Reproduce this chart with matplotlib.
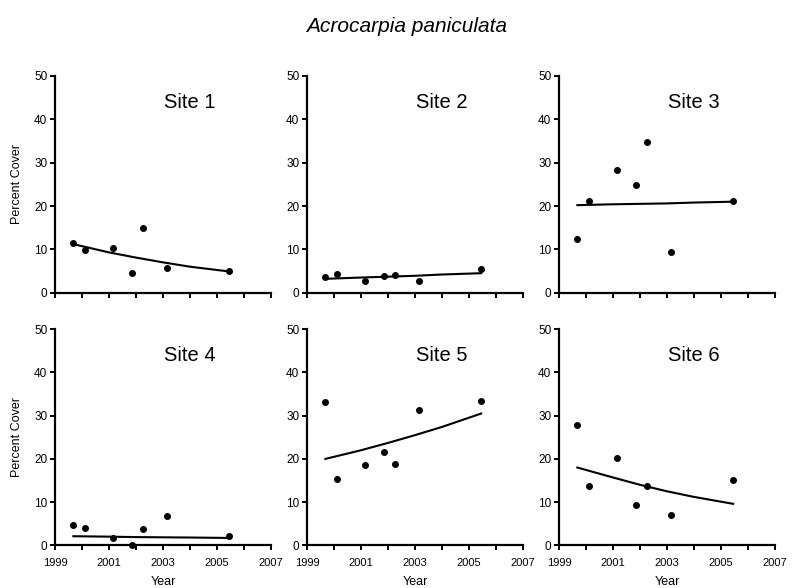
import numpy as np
import matplotlib
matplotlib.use("Agg")
import matplotlib.pyplot as plt

plt.rcParams['font.family'] = ['Liberation Sans', 'DejaVu Sans']

# survey dates (same for every site)
years = [1999.68, 2000.12, 2001.16, 2001.85, 2002.25, 2003.16, 2005.45]

site1 = [11.5, 9.9, 10.2, 4.5, 14.9, 5.6, 4.9]
site2 = [3.6, 4.2, 2.6, 3.8, 4.0, 2.8, 5.5]
site3 = [12.5, 21.1, 28.4, 24.8, 34.7, 9.5, 21.1]
site4 = [4.6, 4.1, 1.7, 0.1, 3.8, 6.7, 2.1]
site5 = [33.1, 15.4, 18.7, 21.5, 18.9, 31.3, 33.3]
site6 = [27.9, 13.7, 20.3, 9.3, 13.7, 6.9, 15.0]

# fitted curves
fit_years = [1999.68, 2001, 2002, 2003, 2004, 2005.45]
fit1 = [11.2, 9.3, 8.1, 7.0, 6.0, 4.9]
fit2 = [3.2, 3.5, 3.7, 3.9, 4.2, 4.5]
fit3 = [20.2, 20.4, 20.5, 20.6, 20.8, 21.0]
fit4 = [2.1, 2.0, 1.9, 1.85, 1.8, 1.7]
fit5 = [20.0, 22.0, 23.7, 25.5, 27.4, 30.5]
fit6 = [18.0, 15.7, 14.0, 12.5, 11.2, 9.6]

sites = ["Site 1", "Site 2", "Site 3", "Site 4", "Site 5", "Site 6"]
values = [site1, site2, site3, site4, site5, site6]
fits = [fit1, fit2, fit3, fit4, fit5, fit6]

xticks = list(range(1999, 2008))
xticklabels = [str(y) if y % 2 == 1 else "" for y in xticks]
yticks = [0, 10, 20, 30, 40, 50]

fig = plt.figure(figsize=(7.92, 5.88), dpi=100)

lefts = [55/792, 307/792, 559/792]
w = 216/792
rows = [(1 - 292.7/588, 216.7/588), (1 - 545.3/588, 216/588)]

for i in range(6):
    r, c = divmod(i, 3)
    ax = fig.add_axes([lefts[c], rows[r][0], w, rows[r][1]])
    ax.plot(years, values[i], 'o', color='black', markersize=4, clip_on=False, zorder=3)
    ax.plot(fit_years, fits[i], '-', color='black', linewidth=1.5)
    ax.set_xlim(1999, 2007)
    ax.set_ylim(0, 50)
    ax.spines['top'].set_visible(False)
    ax.spines['right'].set_visible(False)
    ax.spines['left'].set_linewidth(1.6)
    ax.spines['bottom'].set_linewidth(1.6)
    ax.set_yticks(yticks)
    ax.set_xticks(xticks)
    ax.tick_params(width=1.4, length=3.5, direction='out')
    ax.tick_params(axis='y', pad=2, labelsize=8.5)
    ax.tick_params(axis='x', pad=6, labelsize=8)
    if r == 1:
        ax.set_xticklabels(xticklabels)
        ax.set_xlabel("Year", fontsize=9)
        ax.xaxis.set_label_coords(0.5, -0.142)
    else:
        ax.set_xticklabels([])
    if c == 0:
        ax.set_ylabel("Percent Cover", fontsize=9)
        ax.yaxis.set_label_coords(-0.148, 0.5)
    ax.text(2004, 44, sites[i], fontsize=14.5, ha='center', va='center')

fig.text(407/792, 1 - 26/588, "Acrocarpia paniculata", fontsize=15, style='italic',
         ha='center', va='center')

fig.savefig("out.png", dpi=100)
